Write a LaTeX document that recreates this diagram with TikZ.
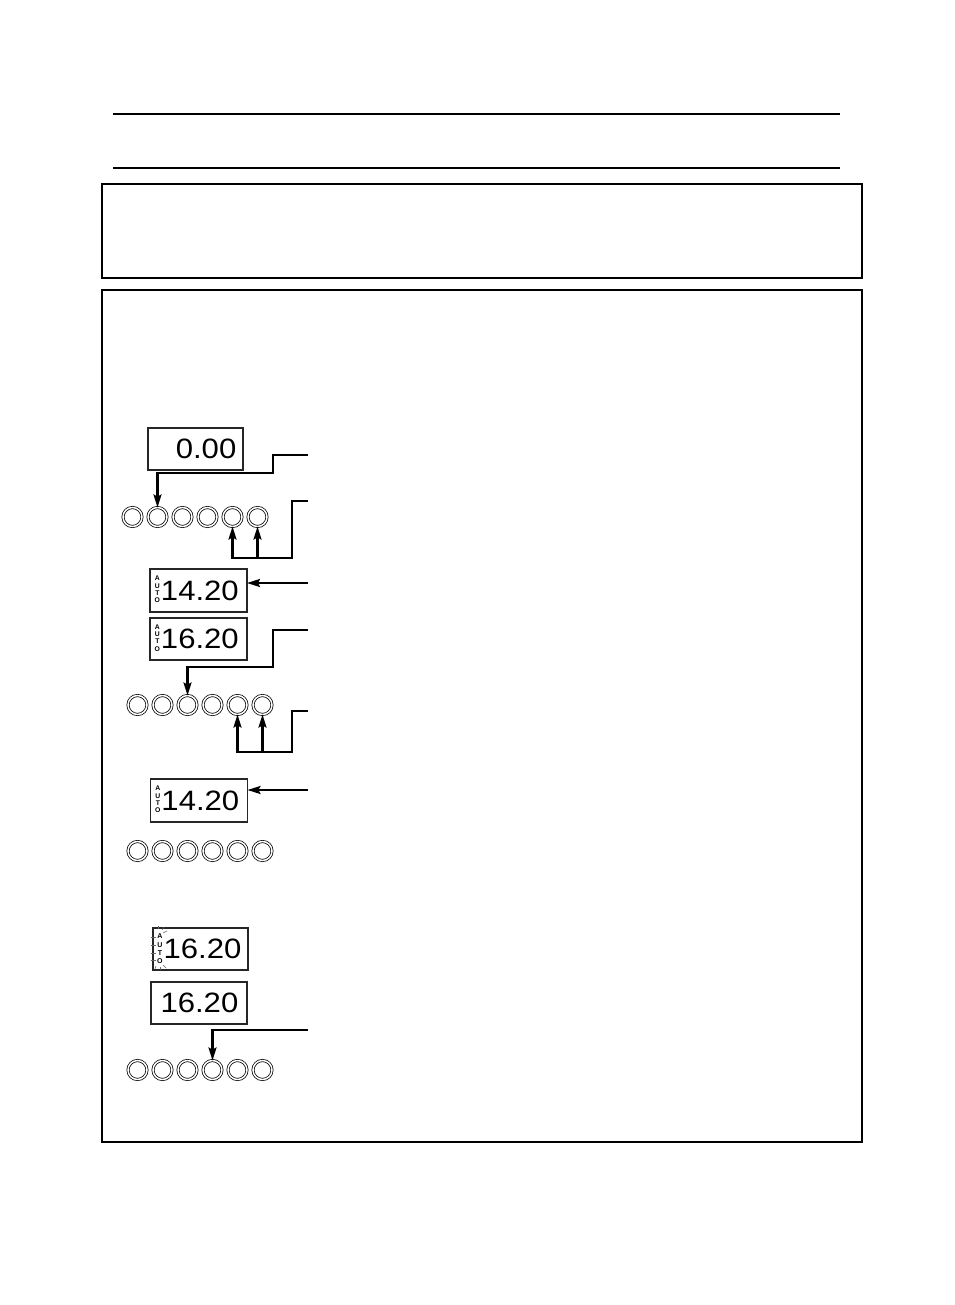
\documentclass[tikz,border=0pt]{standalone}
\usepackage{fontspec}
\setmainfont{Liberation Sans}
\newfontfamily\segfont[FakeStretch=1.11]{Liberation Sans}
\usetikzlibrary{arrows.meta,calc}
\begin{document}
\begin{tikzpicture}[x=1pt,y=-1pt,
  rule/.style={line width=2.6pt},
  frame/.style={draw,line width=1.3pt},
  disp/.style={draw=black!85,line width=1.1pt,rectangle,inner sep=0pt,outer sep=0pt},
  btn/.style={circle,draw,line width=0.75pt,double=white,double distance=1.5pt,minimum size=19pt,inner sep=0pt,outer sep=0pt},
  conn/.style={line width=2.1pt,-{Stealth[length=13pt,width=8pt,inset=2pt]}},
  seg/.style={font=\segfont\fontsize{28}{28}\selectfont,inner sep=0pt},
  autotxt/.style={font=\bfseries\fontsize{6.8}{7.3}\selectfont,align=center,inner sep=0pt},
  blink/.style={draw=black!60,line width=0.5pt}]
\useasboundingbox (0,0) rectangle (954,1305);

% header rules and frames
\draw[rule] (113,114) -- (840,114);
\draw[rule] (113,168) -- (840,168);
\draw[frame] (102,184) rectangle (862,278);
\draw[frame] (102,290) rectangle (862,1142);

% displays
\node[disp,minimum width=95pt,minimum height=42pt] (D1) at (195.5,449) {};
\node[seg,anchor=east] (D1t) at ($(D1.east)+(-6.5,0)$) {0.00};

\node[disp,minimum width=97pt,minimum height=43pt] (D2) at (198.5,590.5) {};
\node[autotxt,anchor=west] (D2a) at ($(D2.west)+(4.5,-1)$) {A\\U\\T\\O};
\node[seg,anchor=west] (D2t) at ($(D2a.east)+(0.6,1)$) {14.20};

\node[disp,minimum width=97pt,minimum height=42pt] (D3) at (198.5,639) {};
\node[autotxt,anchor=west] (D3a) at ($(D3.west)+(4.5,-1)$) {A\\U\\T\\O};
\node[seg,anchor=west] (D3t) at ($(D3a.east)+(0.6,1)$) {16.20};

\node[disp,minimum width=97pt,minimum height=43pt] (D4) at (199,800.5) {};
\node[autotxt,anchor=west] (D4a) at ($(D4.west)+(4.5,-1)$) {A\\U\\T\\O};
\node[seg,anchor=west] (D4t) at ($(D4a.east)+(0.6,1)$) {14.20};

\node[disp,minimum width=95pt,minimum height=42pt] (D5) at (200.5,949) {};
\node[autotxt,anchor=west,font=\bfseries\fontsize{7}{8.4}\selectfont] (D5a) at ($(D5.west)+(4,0)$) {A\\U\\T\\O};
\node[seg,anchor=west] (D5t) at ($(D5a.east)+(0.6,0)$) {16.20};
% blinking marks
\foreach \yy in {937,945,953,960} \draw[blink] (150.5,\yy) -- (155.5,\yy);
\draw[blink] (163,933) -- (167,931);
\draw[blink] (162,930) -- (164,927);
\draw[blink] (158,929) -- (158,926);
\draw[blink] (156,966) -- (155,969);
\draw[blink] (160,967) -- (160,970);
\draw[blink] (163,965) -- (166,968);

\node[disp,minimum width=96pt,minimum height=42pt] (D6) at (199,1003) {};
\node[seg,anchor=east] (D6t) at ($(D6.east)+(-8.5,0)$) {16.20};

% buttons
\foreach \i in {1,...,6} {
  \node[btn] (r1b\i) at ({132.5+25*(\i-1)},517) {};
  \node[btn] (r2b\i) at ({137.5+25*(\i-1)},705) {};
  \node[btn] (r3b\i) at ({137.5+25*(\i-1)},851) {};
  \node[btn] (r4b\i) at ({137.5+25*(\i-1)},1070) {};
}

% connectors
\coordinate (s1) at (308,455); \coordinate (k1) at (273,473);
\draw[conn] (s1) -| (k1) -| (r1b2.north);

\coordinate (s2) at (308,501); \coordinate (k2) at (292,558);
\draw[conn] (s2) -| (k2) -| (r1b5.south);
\draw[conn] (k2 -| r1b6.south) -- (r1b6.south);

\coordinate (s3) at (308,583);
\draw[conn] (s3) -- (s3 -| D2.east);

\coordinate (s4) at (308,630); \coordinate (k4) at (273,667);
\draw[conn] (s4) -| (k4) -| (r2b3.north);

\coordinate (s5) at (308,711); \coordinate (k5) at (292,752);
\draw[conn] (s5) -| (k5) -| (r2b5.south);
\draw[conn] (k5 -| r2b6.south) -- (r2b6.south);

\coordinate (s6) at (308,790);
\draw[conn] (s6) -- (s6 -| D4.east);

\coordinate (s7) at (308,1030);
\draw[conn] (s7) -| (r4b4.north);
\end{tikzpicture}
\end{document}
